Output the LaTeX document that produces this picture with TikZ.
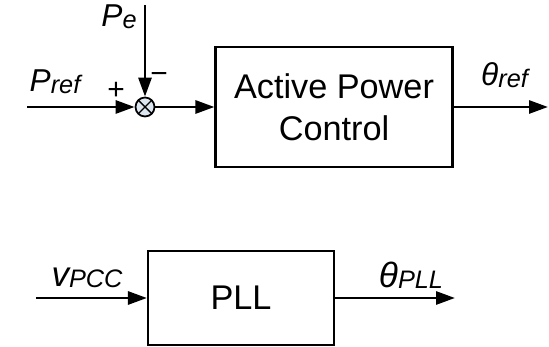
\documentclass[tikz,border=0pt]{standalone}
\usepackage{xcolor}
\usepackage{fontspec}
\setmainfont{Liberation Sans}
\usepackage{tikz}
\usetikzlibrary{arrows.meta, positioning, calc}
\definecolor{sumfill}{HTML}{DCE6F0}
% subscript kept close to the baseline, scaled down from the letter size
\newcommand{\lsub}[2][0.8]{\raisebox{-0.03cm}{\scalebox{#1}{#2}}}

\begin{document}
\begin{tikzpicture}[
    block/.style={rectangle, draw, line width=1.2pt, align=center, inner sep=0pt, font=\fontsize{19.5}{24}\selectfont},
    sumnode/.style={circle, draw, line width=1pt, fill=sumfill, minimum size=0.38cm, inner sep=0pt,
        path picture={\draw[line width=0.8pt] (path picture bounding box.north west) -- (path picture bounding box.south east)
            (path picture bounding box.north east) -- (path picture bounding box.south west);}},
    sig/.style={-{Triangle[length=0.38cm, width=0.26cm]}, line width=1.6pt},
    lbl/.style={anchor=base, inner sep=0pt, font=\fontsize{18}{20}\selectfont\itshape},
    biglbl/.style={lbl, font=\fontsize{20}{22}\selectfont\itshape},
    sign/.style={inner sep=0pt, font=\fontsize{17}{19}\selectfont}
]
    \useasboundingbox (0,0) rectangle (10.98,-6.94);

    % Upper loop: summing junction and active power block
    \coordinate (pin) at (0.54,-2.14);
    \coordinate (petop) at (2.9,-0.1);
    \node[sumnode] (sum) at (2.9,-2.14) {};
    \node[block, minimum width=4.74cm, minimum height=2.4cm] (apc) at (6.68,-2.14) {Active Power\\Control};
    \coordinate (thout) at (10.96,-2.14);

    \draw[sig] (pin) -- (sum);
    \draw[sig] (petop) -- (sum);
    \draw[sig] (sum) -- (apc);
    \draw[sig] (apc) -- (thout);

    % Signal names and signs
    \node[lbl] (preflbl) at (1.1,-1.84) {P\lsub{ref}};
    \node[lbl] (pelbl) at (2.38,-0.54) {P\lsub{e}};
    \node[sign] (plus) at (2.32,-1.82) {+};
    \node[sign] (minus) at (3.18,-1.56) {−};
    \node[lbl] (threflbl) at (10.09,-1.72) {θ\lsub{ref}};

    % Lower loop: PLL
    \coordinate (vin) at (0.72,-5.96);
    \node[block, minimum width=3.72cm, minimum height=1.88cm] (pll) at (4.82,-5.96) {PLL};
    \coordinate (pllout) at (9.1,-5.96);

    \draw[sig] (vin) -- (pll);
    \draw[sig] (pll) -- (pllout);

    \node[biglbl] (vlbl) at (1.74,-5.72) {v\lsub[0.72]{PCC}};
    \node[biglbl] (thplllbl) at (8.22,-5.75) {θ\lsub[0.72]{PLL}};
\end{tikzpicture}
\end{document}
